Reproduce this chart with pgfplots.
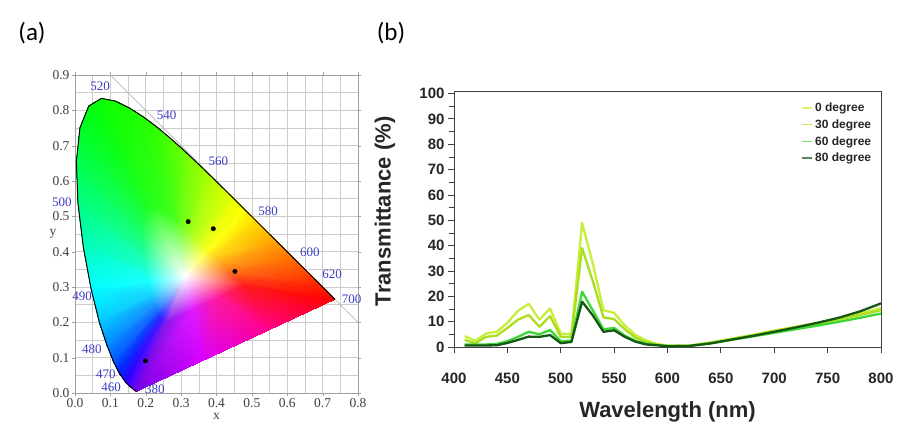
\documentclass[border=0pt]{standalone}
\usepackage{fontspec}
\setmainfont{Liberation Sans}
\newfontfamily\timesf{Liberation Serif}
\newfontfamily\calib{Carlito}
\usepackage{pgfplots}
\usepackage{pgfplotstable}
\pgfplotsset{compat=1.18}

\definecolor{wl}{RGB}{60,60,200}
\definecolor{czero}{RGB}{200,238,60}
\definecolor{cthirty}{RGB}{170,222,30}
\definecolor{csixty}{RGB}{60,215,50}
\definecolor{ceighty}{RGB}{20,88,20}

% CIE 1931 gamut: white point, inner ring, spectral locus (+ two points on the purple line)
\pgfplotstableread{
x y c
0.3127 0.3290 rgb=1,1,1
0.2573 0.1994 rgb=0.505,0.1,0.91
0.2503 0.2045 rgb=0.37,0.1,1
0.2452 0.2093 rgb=0.235,0.1,1
0.2373 0.2205 rgb=0.1,0.235,1
0.2315 0.2321 rgb=0.1,0.415,1
0.2241 0.2505 rgb=0.1,0.595,1
0.2151 0.2777 rgb=0.1,0.82,1
0.2058 0.3154 rgb=0.1,1,1
0.1970 0.3625 rgb=0.1,1,0.775
0.1909 0.4128 rgb=0.1,1,0.55
0.1892 0.4593 rgb=0.1,1,0.37
0.1932 0.4975 rgb=0.1,1,0.235
0.2032 0.5222 rgb=0.1,1,0.145
0.2173 0.5309 rgb=0.145,1,0.1
0.2333 0.5279 rgb=0.172,1,0.1
0.2495 0.5198 rgb=0.19,1,0.1
0.2648 0.5100 rgb=0.235,1,0.1
0.2795 0.4991 rgb=0.28,1,0.1
0.3083 0.4743 rgb=0.46,1,0.1
0.3369 0.4472 rgb=0.685,1,0.1
0.3653 0.4193 rgb=0.91,1,0.1
0.3791 0.4055 rgb=1,1,0.1
0.3926 0.3920 rgb=1,0.865,0.1
0.4177 0.3671 rgb=1,0.64,0.1
0.4384 0.3464 rgb=1,0.46,0.1
0.4642 0.3207 rgb=1,0.235,0.1
0.4815 0.3035 rgb=1,0.1,0.1
0.4067 0.2688 rgb=1,0.1,0.595
0.3320 0.2341 rgb=0.865,0.1,1
0.1741 0.0050 rgb=0.45,0,0.9
0.1566 0.0177 rgb=0.3,0,1
0.1440 0.0297 rgb=0.15,0,1
0.1241 0.0578 rgb=0,0.15,1
0.1096 0.0868 rgb=0,0.35,1
0.0913 0.1327 rgb=0,0.55,1
0.0687 0.2007 rgb=0,0.8,1
0.0454 0.2950 rgb=0,1,1
0.0235 0.4127 rgb=0,1,0.75
0.0082 0.5384 rgb=0,1,0.5
0.0039 0.6548 rgb=0,1,0.3
0.0139 0.7502 rgb=0,1,0.15
0.0389 0.8120 rgb=0,1,0.05
0.0743 0.8338 rgb=0.05,1,0
0.1142 0.8262 rgb=0.08,1,0
0.1547 0.8059 rgb=0.1,1,0
0.1929 0.7816 rgb=0.15,1,0
0.2296 0.7543 rgb=0.2,1,0
0.3016 0.6923 rgb=0.4,1,0
0.3731 0.6245 rgb=0.65,1,0
0.4441 0.5547 rgb=0.9,1,0
0.4788 0.5202 rgb=1,1,0
0.5125 0.4866 rgb=1,0.85,0
0.5752 0.4242 rgb=1,0.6,0
0.6270 0.3725 rgb=1,0.4,0
0.6915 0.3083 rgb=1,0.15,0
0.7347 0.2653 rgb=1,0,0
0.5478 0.1785 rgb=1,0,0.55
0.3610 0.0918 rgb=0.85,0,1
}\ciefill

% Transmittance data
\pgfplotstableread{
wl d0 d30 d60 d80
410 4.3 2.8 1.0 0.6
420 2.5 1.5 1.0 0.6
430 5.3 4.0 1.0 0.6
440 6.0 4.5 1.2 0.7
450 9.5 7.5 2.3 1.6
460 14.3 10.8 4.0 2.8
470 17.0 12.6 6.0 4.1
480 10.8 8.0 5.0 4.0
490 15.2 12.2 6.7 4.7
500 5.3 4.0 2.3 1.5
510 5.0 4.0 2.5 2.0
520 49.0 39.0 21.8 17.9
530 33.0 26.0 14.5 12.5
540 14.5 11.7 7.0 6.0
550 13.5 11.0 7.5 6.6
560 8.5 7.0 4.5 4.0
570 4.7 3.6 2.4 2.1
580 2.6 2.0 1.3 1.0
590 1.2 1.0 0.8 0.7
600 0.6 0.5 0.4 0.3
620 0.5 0.5 0.4 0.4
640 1.8 1.6 1.4 1.4
660 3.3 3.1 2.8 2.9
680 4.8 4.6 4.2 4.4
700 6.5 6.2 5.6 6.0
720 8.0 7.7 7.0 7.7
740 9.5 9.2 8.4 9.5
760 11.2 10.8 9.9 11.5
780 13.2 12.6 11.5 14.0
800 15.3 14.5 13.2 17.2
}\trans

\begin{document}
\begin{tikzpicture}
\useasboundingbox (0pt,0pt) rectangle (897pt,429pt);
\node[font=\calib\fontsize{25}{28}\selectfont] at (32pt,396pt) {(a)};
\node[font=\calib\fontsize{25}{28}\selectfont] at (391pt,396pt) {(b)};

\begin{axis}[
  at={(75pt,36pt)}, anchor=south west, scale only axis,
  width=283pt, height=318pt,
  xmin=0, xmax=0.8, ymin=0, ymax=0.9,
  xtick={0,0.1,0.2,0.3,0.4,0.5,0.6,0.7,0.8},
  ytick={0,0.1,0.2,0.3,0.4,0.5,0.6,0.7,0.8,0.9},
  minor tick num=1, grid=both,
  major grid style={gray!40, line width=0.5pt},
  minor grid style={gray!40, line width=0.5pt},
  axis line style={gray!75},
  tick style={gray!75}, tick align=outside,
  major tick length=3pt, minor tick length=0pt,
  /pgf/number format/assume math mode=true,
  /pgf/number format/fixed, /pgf/number format/fixed zerofill,
  /pgf/number format/precision=1,
  ticklabel style={font=\timesf\fontsize{13.5}{15}\selectfont, text=black!75},
  xticklabel style={yshift=1.5pt},
  yticklabel style={xshift=1pt},
  xlabel={x}, ylabel={y},
  label style={font=\timesf\fontsize{13.5}{15}\selectfont, text=black!75},
  xlabel style={at={(axis description cs:0.5,-0.075)}, anchor=center},
  ylabel style={at={(axis description cs:-0.078,0.5)}, anchor=center, rotate=-90},
  clip=false,
]
\addplot[gray!55, line width=0.8pt] coordinates {(0.1,0.9) (0.8,0.2)};
\addplot[patch, patch type=triangle, shader=interp,
  mesh/color input=explicit, table/row sep=\\,
  patch table={
0 1 2\\ 0 2 3\\ 0 3 4\\ 0 4 5\\ 0 5 6\\ 0 6 7\\ 0 7 8\\ 0 8 9\\ 0 9 10\\ 0 10 11\\
0 11 12\\ 0 12 13\\ 0 13 14\\ 0 14 15\\ 0 15 16\\ 0 16 17\\ 0 17 18\\ 0 18 19\\ 0 19 20\\
0 20 21\\ 0 21 22\\ 0 22 23\\ 0 23 24\\ 0 24 25\\ 0 25 26\\ 0 26 27\\ 0 27 28\\ 0 28 29\\ 0 29 1\\
1 2 31\\ 1 31 30\\ 2 3 32\\ 2 32 31\\ 3 4 33\\ 3 33 32\\ 4 5 34\\ 4 34 33\\
5 6 35\\ 5 35 34\\ 6 7 36\\ 6 36 35\\ 7 8 37\\ 7 37 36\\ 8 9 38\\ 8 38 37\\
9 10 39\\ 9 39 38\\ 10 11 40\\ 10 40 39\\ 11 12 41\\ 11 41 40\\ 12 13 42\\ 12 42 41\\
13 14 43\\ 13 43 42\\ 14 15 44\\ 14 44 43\\ 15 16 45\\ 15 45 44\\ 16 17 46\\ 16 46 45\\
17 18 47\\ 17 47 46\\ 18 19 48\\ 18 48 47\\ 19 20 49\\ 19 49 48\\ 20 21 50\\ 20 50 49\\
21 22 51\\ 21 51 50\\ 22 23 52\\ 22 52 51\\ 23 24 53\\ 23 53 52\\ 24 25 54\\ 24 54 53\\
25 26 55\\ 25 55 54\\ 26 27 56\\ 26 56 55\\ 27 28 57\\ 27 57 56\\ 28 29 58\\ 28 58 57\\
29 1 30\\ 29 30 58\\
  }]
  table[x=x, y=y, meta=c] {\ciefill};
\addplot[black, line width=1pt, line join=round] coordinates {
(0.1741,0.0050) (0.1733,0.0048) (0.1714,0.0051) (0.1644,0.0109) (0.1566,0.0177)
(0.1440,0.0297) (0.1241,0.0578) (0.1096,0.0868) (0.0913,0.1327) (0.0687,0.2007)
(0.0454,0.2950) (0.0235,0.4127) (0.0082,0.5384) (0.0039,0.6548) (0.0139,0.7502)
(0.0389,0.8120) (0.0743,0.8338) (0.1142,0.8262) (0.1547,0.8059) (0.1929,0.7816)
(0.2296,0.7543) (0.2658,0.7243) (0.3016,0.6923) (0.3373,0.6589) (0.3731,0.6245)
(0.4087,0.5896) (0.4441,0.5547) (0.4788,0.5202) (0.5125,0.4866) (0.5448,0.4544)
(0.5752,0.4242) (0.6029,0.3965) (0.6270,0.3725) (0.6658,0.3340) (0.6915,0.3083)
(0.7079,0.2920) (0.7190,0.2809) (0.7300,0.2700) (0.7347,0.2653)};
\addplot[only marks, mark=*, mark size=2.2pt, black] coordinates {
(0.320,0.485) (0.391,0.465) (0.452,0.344) (0.199,0.091)};
\begin{scope}[every node/.style={font=\timesf\fontsize{13}{14}\selectfont, text=wl, inner sep=1pt}]
\node at (axis cs:0.071,0.867) {520};
\node at (axis cs:0.259,0.787) {540};
\node at (axis cs:0.405,0.655) {560};
\node at (axis cs:0.546,0.514) {580};
\node at (axis cs:0.664,0.398) {600};
\node at (axis cs:0.727,0.336) {620};
\node at (axis cs:0.782,0.266) {700};
\node at (axis cs:-0.037,0.539) {500};
\node at (axis cs:0.020,0.273) {490};
\node at (axis cs:0.048,0.124) {480};
\node at (axis cs:0.087,0.054) {470};
\node at (axis cs:0.102,0.016) {460};
\node at (axis cs:0.226,0.012) {380};
\end{scope}
\end{axis}

\begin{axis}[
  at={(454pt,82pt)}, anchor=south west, scale only axis,
  width=427pt, height=256pt,
  xmin=400, xmax=800, ymin=0, ymax=101,
  xtick={400,450,500,550,600,650,700,750,800},
  ytick={0,10,20,30,40,50,60,70,80,90,100},
  minor ytick={5,15,25,35,45,55,65,75,85,95},
  tick pos=left, tick align=outside,
  major tick length=6pt, minor tick length=5pt,
  axis line style={black!75, line width=0.8pt},
  tick style={black!75, line width=0.8pt},
  /pgf/number format/assume math mode=true,
  ticklabel style={font=\bfseries\fontsize{15}{17}\selectfont, text=black!85},
  xticklabel style={yshift=-16pt},
  xlabel={Wavelength (nm)}, ylabel={Transmittance (\%)},
  label style={font=\bfseries\fontsize{22}{26}\selectfont, text=black!85},
  xlabel style={at={(axis description cs:0.5,-0.254)}, anchor=center},
  ylabel style={at={(axis description cs:-0.162,0.53)}, anchor=center},
  legend style={at={(rel axis cs:0.982,0.962)}, anchor=north east,
     draw=none, fill=none, inner sep=0pt, row sep=2.5pt,
     font=\bfseries\fontsize{12}{13}\selectfont, text=black!85},
  legend cell align=left,
  legend image code/.code={\draw[#1, line width=1.3pt, opacity=0.7] (0pt,0pt) -- (10pt,0pt);},
  every axis plot/.append style={line width=2.3pt, line join=round},
]
\addplot[czero] table[x=wl, y=d0] {\trans};
\addplot[cthirty] table[x=wl, y=d30] {\trans};
\addplot[csixty] table[x=wl, y=d60] {\trans};
\addplot[ceighty] table[x=wl, y=d80] {\trans};
\legend{0 degree, 30 degree, 60 degree, 80 degree}
\end{axis}
\end{tikzpicture}
\end{document}
